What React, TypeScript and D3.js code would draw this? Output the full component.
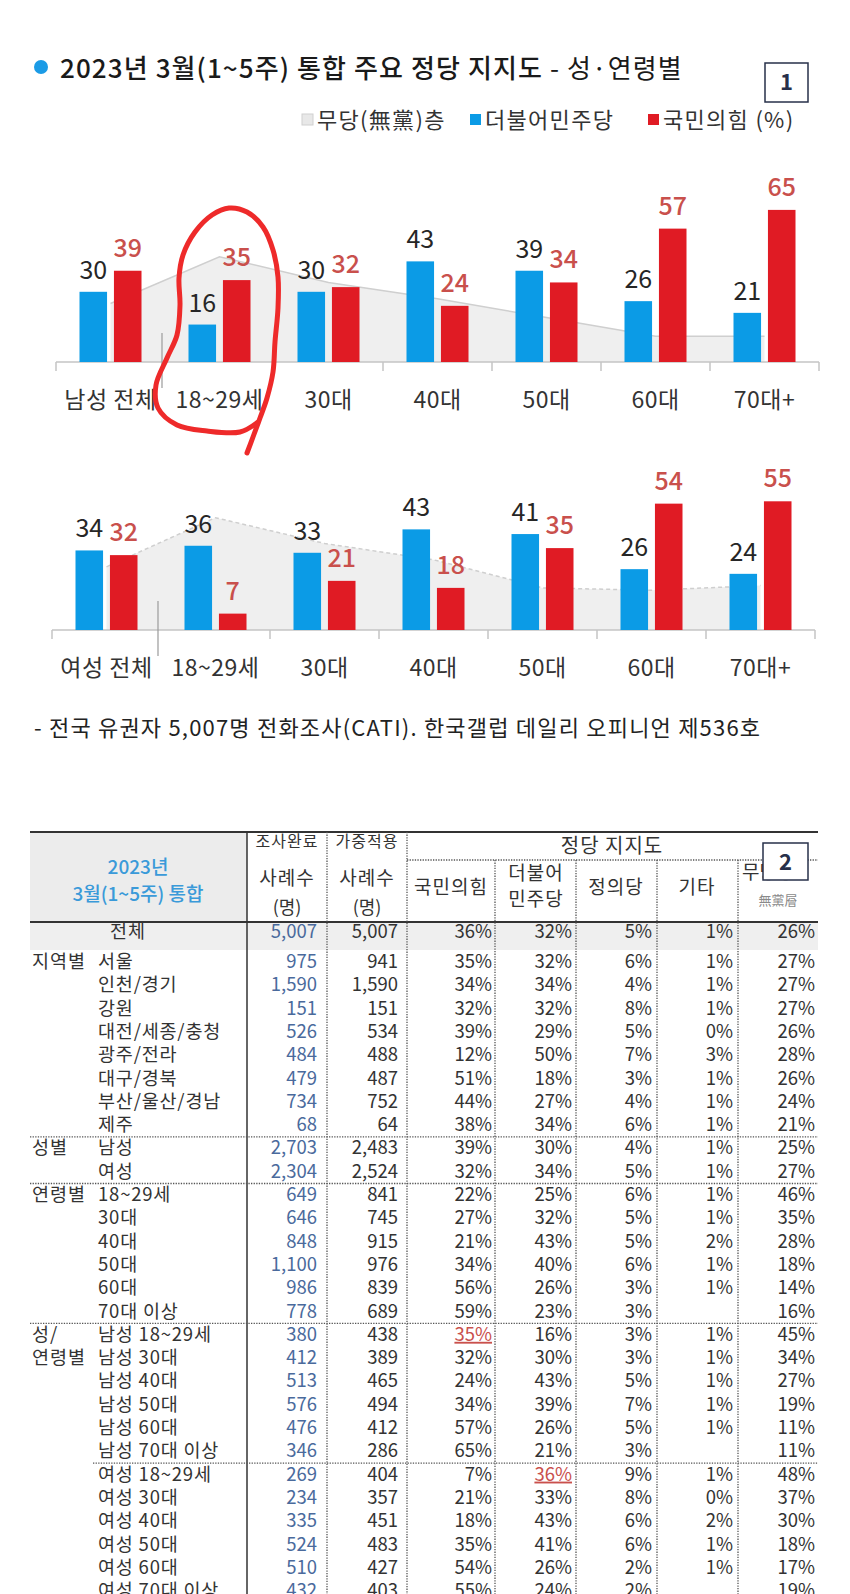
import React from "react";
import * as d3 from "d3";

// chart data (%)
const maleCats = ["남성 전체", "18~29세", "30대", "40대", "50대", "60대", "70대+"];
const femaleCats = ["여성 전체", "18~29세", "30대", "40대", "50대", "60대", "70대+"];
const maleDem = [30, 16, 30, 43, 39, 26, 21];
const malePpp = [39, 35, 32, 24, 34, 57, 65];
const maleNone = [25, 45, 34, 27, 19, 11, 11];
const femaleDem = [34, 36, 33, 43, 41, 26, 24];
const femalePpp = [32, 7, 21, 18, 35, 54, 55];
const femaleNone = [27, 48, 37, 30, 18, 17, 19];

// table data
const rowGroups = ["", "지역별", "", "", "", "", "", "", "", "성별", "", "연령별", "", "", "", "", "", "성/", "연령별", "", "", "", "", "", "", "", "", "", ""];
const rowLabels = ["전체", "서울", "인천/경기", "강원", "대전/세종/충청", "광주/전라", "대구/경북", "부산/울산/경남", "제주",
  "남성", "여성", "18~29세", "30대", "40대", "50대", "60대", "70대 이상",
  "남성 18~29세", "남성 30대", "남성 40대", "남성 50대", "남성 60대", "남성 70대 이상",
  "여성 18~29세", "여성 30대", "여성 40대", "여성 50대", "여성 60대", "여성 70대 이상"];
const sampleN = ["5,007", "975", "1,590", "151", "526", "484", "479", "734", "68", "2,703", "2,304", "649", "646", "848", "1,100", "986", "778",
  "380", "412", "513", "576", "476", "346", "269", "234", "335", "524", "510", "432"];
const weightedN = ["5,007", "941", "1,590", "151", "534", "488", "487", "752", "64", "2,483", "2,524", "841", "745", "915", "976", "839", "689",
  "438", "389", "465", "494", "412", "286", "404", "357", "451", "483", "427", "403"];
const pppPct = [36, 35, 34, 32, 39, 12, 51, 44, 38, 39, 32, 22, 27, 21, 34, 56, 59, 35, 32, 24, 34, 57, 65, 7, 21, 18, 35, 54, 55];
const demPct = [32, 32, 34, 32, 29, 50, 18, 27, 34, 30, 34, 25, 32, 43, 40, 26, 23, 16, 30, 43, 39, 26, 21, 36, 33, 43, 41, 26, 24];
const justicePct = [5, 6, 4, 8, 5, 7, 3, 4, 6, 4, 5, 6, 5, 5, 6, 3, 3, 3, 3, 5, 7, 5, 3, 9, 8, 6, 6, 2, 2];
const otherPct = [1, 1, 1, 1, 0, 3, 1, 1, 1, 1, 1, 1, 1, 2, 1, 1, null, 1, 1, 1, 1, 1, null, 1, 0, 2, 1, 1, null];
const nonePct = [26, 27, 27, 27, 26, 28, 26, 24, 21, 25, 27, 46, 35, 28, 18, 14, 16, 45, 34, 27, 19, 11, 11, 48, 37, 30, 18, 17, 19];
const highlighted = [[17, "ppp"], [23, "dem"]];

const FONT = "'Noto Sans CJK KR', 'Noto Sans', sans-serif";
const BLUE = "#0b9be6";
const RED = "#e01b24";
const RED_TXT = "#c9504c";

function Panel({ cats, dem, ppp, none, left, right, base, dashed }) {
  const x = d3.scaleBand().domain(cats).range([left, right]);
  const inner = d3.scaleBand().domain(["dem", "ppp"]).range([-31, 31]).paddingInner(0.2);
  const y = d3.scaleLinear().domain([0, 100]).range([base, base - 234]);
  const cx = (c) => x(c) + x.bandwidth() / 2;
  const area = d3.area().x((_, i) => cx(cats[i])).y0(base).y1((d) => y(d));
  const line = d3.line().x((_, i) => cx(cats[i])).y((d) => y(d));
  const bounds = d3.range(cats.length + 1).map((i) => left + i * x.step());

  return (
    <g>
      <path d={area(none)} fill="#efefef" />
      <path d={line(none)} fill="none" stroke="#cfcfcf" strokeWidth={1.5} strokeDasharray={dashed ? "4,3" : null} />
      <line x1={left} x2={right} y1={base} y2={base} stroke="#c4c4c4" strokeWidth={1.5} />
      {bounds.map((b, i) =>
        i === 1 ? (
          <line key={i} x1={b - 3} x2={b - 3} y1={base - 29} y2={base + 26} stroke="#9a9a9a" strokeWidth={1.2} />
        ) : (
          <line key={i} x1={b} x2={b} y1={base} y2={base + 9} stroke="#c4c4c4" strokeWidth={1.5} />
        )
      )}
      {cats.map((c, i) => (
        <g key={c} transform={`translate(${cx(c)},0)`}>
          <rect x={inner("dem")} width={inner.bandwidth()} y={y(dem[i])} height={base - y(dem[i])} fill={BLUE} />
          <rect x={inner("ppp")} width={inner.bandwidth()} y={y(ppp[i])} height={base - y(ppp[i])} fill={RED} />
          <text x={inner("dem") + inner.bandwidth() / 2} y={y(dem[i]) - 13} textAnchor="middle" fontSize={25} fill="#262626">{dem[i]}</text>
          <text x={inner("ppp") + inner.bandwidth() / 2} y={y(ppp[i]) - 14} textAnchor="middle" fontSize={25} fill={RED_TXT} fontWeight={500}>{ppp[i]}</text>
          <text x={0} y={base + 46} textAnchor="middle" fontSize={23} letterSpacing={0.5} fill="#333">{c}</text>
        </g>
      ))}
    </g>
  );
}

function Table() {
  const top = 832;
  const headBottom = 922;
  const left = 30;
  const right = 818;
  const rowTop = (i) => (i === 0 ? headBottom : 950.5 + (i - 1) * 23.3);
  const rowBase = (i) => (i === 0 ? 938 : rowTop(i) + 17.5);
  const colRight = [317, 398, 492, 572, 652, 733, 815];
  const dotted = { stroke: "#555", strokeWidth: 1.3, strokeDasharray: "1.3,1.3" };
  const pct = (v) => (v === null ? "" : v + "%");
  const sepRows = [9, 11, 17];
  return (
    <g fontFamily={FONT}>
      <rect x={left} y={top} width={217} height={headBottom - top} fill="#ececec" />
      <rect x={left} y={headBottom} width={right - left} height={28} fill="#efefef" />
      <line x1={left} x2={right} y1={top} y2={top} stroke="#333" strokeWidth={2} />
      <line x1={left} x2={right} y1={headBottom} y2={headBottom} stroke="#333" strokeWidth={2} />
      <line x1={247} x2={247} y1={top} y2={1594} stroke="#333" strokeWidth={1.5} />
      <line x1={327} x2={327} y1={top} y2={1594} {...dotted} />
      <line x1={407} x2={407} y1={top} y2={1594} {...dotted} />
      {[495, 576, 657, 738].map((v) => (
        <line key={v} x1={v} x2={v} y1={860} y2={1594} {...dotted} />
      ))}
      <line x1={407} x2={right} y1={860} y2={860} {...dotted} />
      {sepRows.map((r) => (
        <line key={r} x1={left} x2={right} y1={rowTop(r)} y2={rowTop(r)} {...dotted} />
      ))}
      <line x1={93} x2={right} y1={rowTop(23)} y2={rowTop(23)} {...dotted} />

      <text x={138} y={874} textAnchor="middle" fontSize={19} fill="#3a9ad9" fontWeight={500}>2023년</text>
      <text x={138} y={901} textAnchor="middle" fontSize={19} fill="#3a9ad9" fontWeight={500}>3월(1~5주) 통합</text>
      <text x={287} y={847} textAnchor="middle" fontSize={16} letterSpacing={1} fill="#333">조사완료</text>
      <text x={287} y={885} textAnchor="middle" fontSize={19} letterSpacing={1} fill="#333">사례수</text>
      <text x={287} y={914} textAnchor="middle" fontSize={18} fill="#333">(명)</text>
      <text x={367} y={847} textAnchor="middle" fontSize={16} letterSpacing={1} fill="#333">가중적용</text>
      <text x={367} y={885} textAnchor="middle" fontSize={19} letterSpacing={1} fill="#333">사례수</text>
      <text x={367} y={914} textAnchor="middle" fontSize={18} fill="#333">(명)</text>
      <text x={612} y={853} textAnchor="middle" fontSize={20} letterSpacing={1} fill="#333">정당 지지도</text>
      <text x={451} y={894} textAnchor="middle" fontSize={19} letterSpacing={1} fill="#333">국민의힘</text>
      <text x={536} y={880} textAnchor="middle" fontSize={19} letterSpacing={1} fill="#333">더불어</text>
      <text x={536} y={906} textAnchor="middle" fontSize={19} letterSpacing={1} fill="#333">민주당</text>
      <text x={616} y={894} textAnchor="middle" fontSize={19} letterSpacing={1} fill="#333">정의당</text>
      <text x={697} y={894} textAnchor="middle" fontSize={19} letterSpacing={1} fill="#333">기타</text>
      <text x={742} y={879} fontSize={19} fill="#333">무당층</text>
      <text x={778} y={905} textAnchor="middle" fontSize={13} fill="#8a8a8a">無黨層</text>
      <rect x={763} y={843} width={45} height={37} fill="#fff" stroke="#27304a" strokeWidth={1.5} />
      <text x={785.5} y={870} textAnchor="middle" fontSize={22} fontWeight={700} fill="#27304a">2</text>

      {rowLabels.map((lab, i) => {
        const yb = rowBase(i);
        const vals = [sampleN[i], weightedN[i], pct(pppPct[i]), pct(demPct[i]), pct(justicePct[i]), pct(otherPct[i]), pct(nonePct[i])];
        return (
          <g key={i} fontSize={18.5}>
            {i === 0 ? (
              <text x={128} y={yb} textAnchor="middle" fill="#333" letterSpacing={1}>{lab}</text>
            ) : (
              <>
                <text x={32} y={yb} fill="#333" letterSpacing={1}>{rowGroups[i]}</text>
                <text x={98} y={yb} fill="#333" letterSpacing={0.8}>{lab}</text>
              </>
            )}
            {vals.map((v, j) => {
              const hl = highlighted.some(([r, k]) => r === i && ((k === "ppp" && j === 2) || (k === "dem" && j === 3)));
              return (
                <text key={j} x={colRight[j]} y={yb} textAnchor="end" fill={j === 0 ? "#4a6a9c" : hl ? RED_TXT : "#333"}
                  textDecoration={hl ? "underline" : null}>{v}</text>
              );
            })}
          </g>
        );
      })}
    </g>
  );
}

// hand-drawn red marker loop around the male 18~29 group
const loopPts = [[258, 422], [240, 432], [207, 431], [177, 425], [158, 408], [156, 385], [167, 358], [177, 335], [180, 305],
  [179, 278], [183, 255], [195, 232], [212, 215], [229, 208], [247, 212], [263, 227], [273, 250], [278, 277], [278, 308],
  [275, 342], [273, 372], [267, 398], [260, 418], [253, 437], [247, 453]];

export default function App() {
  const loop = d3.line().curve(d3.curveCatmullRom)(loopPts);
  return (
    <div style={{ position: "absolute", left: 0, top: 0, background: "#fff" }}>
      <svg width={850} height={1594} fontFamily={FONT} style={{ display: "block" }}>
        <rect width={850} height={1594} fill="#fff" />
        <circle cx={41} cy={67} r={7} fill="#1b9be6" />
        <text x={60} y={78} fontSize={26} letterSpacing={1.1} fill="#1a1a1a" fontWeight={500}>
          2023년 3월(1~5주) 통합 주요 정당 지지도 <tspan fontWeight={400}>- 성·연령별</tspan>
        </text>
        <rect x={765} y={63} width={43} height={39} fill="#fff" stroke="#27304a" strokeWidth={1.5} />
        <text x={786.5} y={90} textAnchor="middle" fontSize={22} fontWeight={700} fill="#27304a">1</text>

        <g fontSize={22} letterSpacing={1.3} fill="#333">
          <rect x={302} y={114} width={11} height={11} fill="#e8e8e8" stroke="#d0d0d0" />
          <text x={317} y={128}>무당(無黨)층</text>
          <rect x={470} y={114} width={11} height={11} fill={BLUE} />
          <text x={485} y={128}>더불어민주당</text>
          <rect x={648} y={114} width={11} height={11} fill={RED} />
          <text x={663} y={128}>국민의힘 (%)</text>
        </g>

        <Panel cats={maleCats} dem={maleDem} ppp={malePpp} none={maleNone} left={56} right={819} base={362} dashed={false} />
        <Panel cats={femaleCats} dem={femaleDem} ppp={femalePpp} none={femaleNone} left={52} right={815} base={630} dashed={true} />

        <path d={loop} fill="none" stroke="#ee2a2a" strokeWidth={5} strokeLinecap="round" />

        <text x={34} y={736} fontSize={22} letterSpacing={1.2} fill="#222">- 전국 유권자 5,007명 전화조사(CATI). 한국갤럽 데일리 오피니언 제536호</text>

        <Table />
      </svg>
    </div>
  );
}
